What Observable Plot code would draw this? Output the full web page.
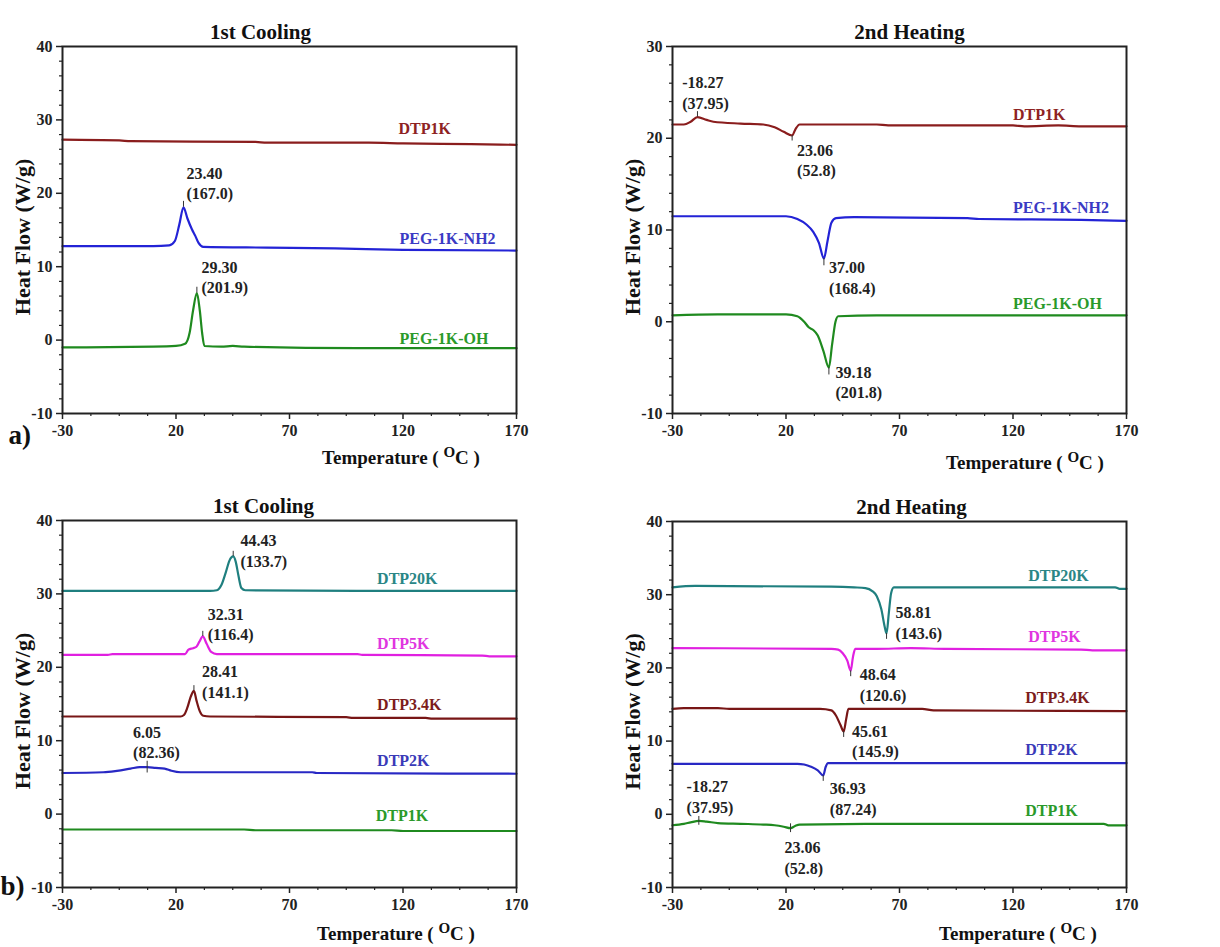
<!DOCTYPE html>
<html><head><meta charset="utf-8">
<script src="https://cdn.jsdelivr.net/npm/d3@7"></script>
<script src="https://cdn.jsdelivr.net/npm/@observablehq/plot@0.6"></script>
<style>
body{margin:0;background:#fff;}
#wrap{position:relative;width:1220px;height:947px;overflow:hidden;}
.panel{position:absolute;}
</style></head><body><div id="wrap"></div>
<script>
// ---------------- DATA ----------------
const tempTicks = [-30, 20, 70, 120, 170];
const tempMinor = [-17.5, -5, 7.5, 32.5, 45, 57.5, 82.5, 95, 107.5, 132.5, 145, 157.5];
const hfTicksA2 = [-10, 0, 10, 20, 30];
const hfTicks = [-10, 0, 10, 20, 30, 40];

// (a) 1st cooling  [temperature °C, heat flow W/g]
const a1_DTP1K = [[-30,27.3],[-5,27.2],[0,27.1],[55,27.0],[60,26.9],[105,26.9],[120,26.8],[150,26.7],[170,26.6]];
const a1_NH2 = [[-30,12.8],[10,12.8],[17,12.9],[19.5,13.5],[21.5,15.8],[23.3,18.1],[25,16.6],[27,15.1],[28.5,14.2],[30,13.2],[32,12.7],[60,12.6],[90,12.5],[120,12.3],[170,12.2]];
const a1_OH = [[-30,-1.0],[10,-0.9],[20,-0.8],[24,-0.5],[26,1.0],[27.5,4.0],[29.2,6.4],[30.5,4.0],[31.5,1.0],[32.5,-0.8],[40,-0.9],[45,-0.8],[50,-0.9],[100,-1.1],[170,-1.1]];

// (a) 2nd heating
const a2_DTP1K = [[-30,21.5],[-25,21.5],[-22,21.8],[-19,22.3],[-15,22.0],[-12,21.8],[0,21.6],[10,21.5],[15,21.2],[19,20.7],[22.7,20.3],[24.2,21.0],[26,21.5],[60,21.5],[65,21.4],[120,21.4],[125,21.3],[140,21.4],[150,21.3],[170,21.3]];
const a2_NH2 = [[-30,11.5],[10,11.5],[20,11.5],[25,11.2],[29,10.6],[32,9.8],[34.5,8.6],[36.7,6.9],[38.3,8.8],[40,10.8],[42,11.3],[50,11.4],[100,11.3],[105,11.2],[150,11.1],[170,11.0]];
const a2_OH = [[-30,0.7],[-10,0.8],[10,0.8],[20,0.8],[25,0.6],[28,0.0],[30,-0.6],[32,-0.9],[34,-1.5],[36.5,-3.2],[38.9,-5.0],[40.3,-2.5],[41.8,0.0],[43,0.6],[60,0.7],[170,0.7]];

// (b) 1st cooling
const b1_DTP20K = [[-30,30.4],[35,30.4],[38,30.5],[40,31.2],[42,33.0],[43.5,34.5],[45.2,35.1],[46.3,34.4],[47.5,32.5],[48.8,30.8],[50.5,30.5],[100,30.4],[170,30.4]];
const b1_DTP5K = [[-30,21.7],[-10,21.7],[-8,21.8],[24,21.8],[25.5,22.4],[27.5,22.6],[29,22.8],[30.3,23.5],[31.8,24.2],[33.5,23.2],[35.5,22.1],[38,21.8],[100,21.8],[102,21.7],[155,21.6],[158,21.5],[170,21.5]];
const b1_DTP34K = [[-30,13.3],[22,13.3],[23.5,13.5],[25,14.5],[26.5,16.0],[27.9,16.8],[29,15.5],[30.5,14.0],[32,13.4],[35,13.3],[95,13.2],[98,13.1],[130,13.1],[133,13.0],[170,13.0]];
const b1_DTP2K = [[-30,5.6],[-12,5.7],[-6,5.9],[0,6.2],[4,6.4],[7.3,6.4],[11,6.3],[15,6.2],[18,5.9],[22,5.7],[80,5.7],[82,5.6],[170,5.5]];
const b1_DTP1K = [[-30,-2.1],[50,-2.1],[55,-2.2],[115,-2.2],[120,-2.3],[170,-2.3]];

// (b) 2nd heating
const b2_DTP20K = [[-30,31.0],[-20,31.2],[40,31.1],[50,31.0],[55,30.9],[58,30.5],[60,29.8],[62,28.0],[63.5,25.6],[64.3,24.7],[65.3,27.5],[66.3,30.2],[67.5,31.0],[100,31.0],[165,31.0],[167,30.8],[170,30.8]];
const b2_DTP5K = [[-30,22.7],[40,22.6],[43,22.5],[45,22.0],[47,21.0],[48.5,19.6],[49.5,21.5],[50.5,22.6],[60,22.6],[75,22.7],[90,22.6],[150,22.5],[155,22.4],[170,22.4]];
const b2_DTP34K = [[-30,14.4],[-25,14.5],[-10,14.5],[-5,14.4],[35,14.4],[40,14.2],[42,13.5],[44,12.2],[45.4,11.3],[46.5,13.0],[47.5,14.4],[80,14.4],[85,14.2],[170,14.1]];
const b2_DTP2K = [[-30,6.9],[25,6.9],[28,6.8],[31,6.5],[34,6.0],[36.4,5.3],[37.5,6.5],[38.5,7.0],[170,7.0]];
const b2_DTP1K = [[-30,-1.5],[-25,-1.3],[-22,-1.1],[-18.4,-0.9],[-15,-1.0],[-10,-1.2],[0,-1.3],[10,-1.4],[15,-1.5],[19,-1.7],[22,-1.9],[24,-1.6],[26,-1.4],[60,-1.3],[100,-1.3],[160,-1.3],[162,-1.5],[170,-1.5]];

// peak annotation texts and the peak points they belong to
const a1_peaks = [{T:23.3, HF:18.1, text:"23.40\n(167.0)"}, {T:29.2, HF:6.4, text:"29.30\n(201.9)"}];
const a2_peaks = [{T:-19, HF:22.3, text:"-18.27\n(37.95)"}, {T:22.7, HF:20.3, text:"23.06\n(52.8)"}, {T:36.7, HF:6.9, text:"37.00\n(168.4)"}, {T:38.9, HF:-5.0, text:"39.18\n(201.8)"}];
const b1_peaks = [{T:45.2, HF:35.1, text:"44.43\n(133.7)"}, {T:31.8, HF:24.2, text:"32.31\n(116.4)"}, {T:27.9, HF:16.8, text:"28.41\n(141.1)"}, {T:7.3, HF:6.4, text:"6.05\n(82.36)"}];
const b2_peaks = [{T:64.3, HF:24.7, text:"58.81\n(143.6)"}, {T:48.5, HF:19.6, text:"48.64\n(120.6)"}, {T:45.4, HF:11.3, text:"45.61\n(145.9)"}, {T:36.4, HF:5.3, text:"36.93\n(87.24)"}, {T:-18.4, HF:-0.9, text:"-18.27\n(37.95)"}, {T:22, HF:-1.9, text:"23.06\n(52.8)"}];

// ---------------- LAYOUT / STYLE ----------------
const C = {
  maroon:"#8a1d1d", blue:"#2323d6", green:"#1f8a1f", teal:"#1f7f7f", magenta:"#e020e0", maroon2:"#781616", blue2:"#2828c4",
  lmaroon:"#8e2222", lblue:"#3a3ac4", lgreen:"#2a9a2a", lteal:"#2a8686", lmagenta:"#e035e0", lmaroon2:"#7c1c1c", lblue2:"#3a3ab8"
};
const FONT = "Liberation Serif, Times New Roman, serif";

function makePanel(cfg) {
  const yMinor = d3.range(cfg.yDomain[0], cfg.yDomain[1] + 0.001, 2).filter(v => !cfg.yTicks.includes(v));
  const marks = [
    Plot.axisX(tempMinor, {tickSize: 3, tickFormat: () => "", label: null, strokeWidth: 1.2}),
    Plot.axisX(tempTicks, {tickSize: 6, tickPadding: 5, tickFormat: d => String(d), label: null, strokeWidth: 1.5, fontSize: 16, fontWeight: "bold"}),
    Plot.axisY(yMinor, {tickSize: 3, tickFormat: () => "", label: null, strokeWidth: 1.2}),
    Plot.axisY(cfg.yTicks, {tickSize: 6, tickPadding: 4, tickFormat: d => String(d), label: null, strokeWidth: 1.5, fontSize: 16, fontWeight: "bold"}),
    ...cfg.series.map(s => Plot.line(s.data, {x: d => d[0], y: d => d[1], stroke: () => s.color, strokeWidth: 2.2, curve: "monotone-x"})),
    Plot.ruleX(cfg.peaks, {x: "T", y1: (d, i) => d.HF - cfg.tick[i][0], y2: (d, i) => d.HF + cfg.tick[i][1], stroke: "#333", strokeWidth: 1}),
    Plot.text(cfg.peaks, {x: (d, i) => cfg.notePos[i][0], y: (d, i) => cfg.notePos[i][1], text: "text", textAnchor: "start", lineAnchor: "middle", lineHeight: 1.3, fontSize: 16, fontWeight: "bold", fill: "#222"}),
    Plot.text(cfg.series, {x: (d, i) => cfg.labelPos[i][0], y: (d, i) => cfg.labelPos[i][1], text: "name", fill: d => d.lcolor, textAnchor: "start", fontSize: 16, fontWeight: "bold"}),
    Plot.text([cfg.title], {text: d => d, frameAnchor: "top", textAnchor: "middle", dx: cfg.titleDx, dy: -22, fontSize: 21, fontWeight: "bold", fill: "#111"}),
    Plot.text(["Heat Flow (W/g)"], {text: d => d, frameAnchor: "left", textAnchor: "middle", rotate: -90, dx: -40, dy: 7, fontSize: 22, fontWeight: "bold", fill: "#111"}),
    Plot.frame({stroke: "#222", strokeWidth: 2})
  ];
  if (cfg.letter) marks.push(Plot.text([cfg.letter], {text: d => d, frameAnchor: "bottom-left", textAnchor: "start", dx: cfg.letterPos[0], dy: cfg.letterPos[1], fontSize: 27, fontWeight: "bold", fill: "#111"}));
  const svg = Plot.plot({
    width: 610, height: cfg.height,
    marginLeft: 62, marginRight: 94, marginTop: cfg.marginTop, marginBottom: cfg.marginBottom,
    x: {domain: [-30, 170]},
    y: {domain: cfg.yDomain},
    color: {type: "identity"},
    style: {fontFamily: FONT, fontSize: "16px", fontWeight: "bold", color: "#222", background: "white", overflow: "visible"},
    marks
  });
  d3.select(svg).selectAll('g[aria-label="x-axis tick label"], g[aria-label="y-axis tick label"]')
    .attr("font-size", 16).style("font-size", "16px").attr("font-weight", "bold");
  const t = d3.select(svg).append("text")
    .attr("x", cfg.xLabel[0]).attr("y", cfg.xLabel[1])
    .attr("text-anchor", "middle").attr("font-size", 19).attr("font-weight", "bold").attr("fill", "#111");
  t.append("tspan").text("Temperature ( ");
  t.append("tspan").attr("dy", -7).attr("font-size", 15).text("O");
  t.append("tspan").attr("dy", 7).text("C )");
  return svg;
}

const panels = [
  {left: 0, top: 0, height: 480, marginTop: 46, marginBottom: 67, yDomain: [-10, 40], yTicks: hfTicks,
   title: "1st Cooling", titleDx: -29, letter: "a)", letterPos: [-54, 30], xLabel: [401, 464],
   series: [{name: "DTP1K", data: a1_DTP1K, color: C.maroon, lcolor: C.lmaroon},
            {name: "PEG-1K-NH2", data: a1_NH2, color: C.blue, lcolor: C.lblue},
            {name: "PEG-1K-OH", data: a1_OH, color: C.green, lcolor: C.lgreen}],
   labelPos: [[118, 28.8], [118.5, 13.8], [118.5, 0.2]],
   peaks: a1_peaks, notePos: [[24.6, 21.5], [31.2, 8.7]], tick: [[0, 0.8], [0, 0.8]]},
  {left: 610, top: 0, height: 480, marginTop: 46, marginBottom: 67, yDomain: [-10, 30], yTicks: hfTicksA2,
   title: "2nd Heating", titleDx: 10, xLabel: [415, 469],
   series: [{name: "DTP1K", data: a2_DTP1K, color: C.maroon, lcolor: C.lmaroon},
            {name: "PEG-1K-NH2", data: a2_NH2, color: C.blue, lcolor: C.lblue},
            {name: "PEG-1K-OH", data: a2_OH, color: C.green, lcolor: C.lgreen}],
   labelPos: [[120, 22.6], [120, 12.4], [120, 1.9]],
   peaks: a2_peaks, notePos: [[-25.7, 25.1], [24.9, 17.7], [38.9, 4.9], [41.8, -6.5]], tick: [[0, 0.6], [0.6, 0], [0.8, 0], [0.8, 0]]},
  {left: 0, top: 480, height: 467, marginTop: 40, marginBottom: 60, yDomain: [-10, 40], yTicks: hfTicks,
   title: "1st Cooling", titleDx: -26, letter: "b)", letterPos: [-62, 7], xLabel: [396, 460],
   series: [{name: "DTP20K", data: b1_DTP20K, color: C.teal, lcolor: C.lteal},
            {name: "DTP5K", data: b1_DTP5K, color: C.magenta, lcolor: C.lmagenta},
            {name: "DTP3.4K", data: b1_DTP34K, color: C.maroon2, lcolor: C.lmaroon2},
            {name: "DTP2K", data: b1_DTP2K, color: C.blue2, lcolor: C.lblue2},
            {name: "DTP1K", data: b1_DTP1K, color: C.green, lcolor: C.lgreen}],
   labelPos: [[108.6, 32.0], [108.6, 23.2], [108.6, 14.9], [108.6, 7.2], [108, -0.2]],
   peaks: b1_peaks, notePos: [[48.4, 35.95], [34.0, 26.0], [31.5, 18.2], [1.1, 9.9]], tick: [[0, 0.7], [0, 0.7], [0, 0.7], [0.8, 0.8]]},
  {left: 610, top: 480, height: 467, marginTop: 41, marginBottom: 60, yDomain: [-10, 40], yTicks: hfTicks,
   title: "2nd Heating", titleDx: 12, xLabel: [408, 460],
   series: [{name: "DTP20K", data: b2_DTP20K, color: C.teal, lcolor: C.lteal},
            {name: "DTP5K", data: b2_DTP5K, color: C.magenta, lcolor: C.lmagenta},
            {name: "DTP3.4K", data: b2_DTP34K, color: C.maroon2, lcolor: C.lmaroon2},
            {name: "DTP2K", data: b2_DTP2K, color: C.blue2, lcolor: C.lblue2},
            {name: "DTP1K", data: b2_DTP1K, color: C.green, lcolor: C.lgreen}],
   labelPos: [[126.7, 32.6], [126.7, 24.3], [125.4, 15.9], [125.4, 8.8], [125.4, 0.4]],
   peaks: b2_peaks, notePos: [[68.2, 26.3], [52.5, 17.8], [49.1, 10.1], [39.3, 2.3], [-23.8, 2.5], [19.3, -5.8]],
   tick: [[0.8, 0], [0.8, 0], [0.8, 0], [0.8, 0], [0.6, 0.6], [0.6, 0.6]]}
];

const wrap = document.getElementById("wrap");
for (const p of panels) {
  const div = document.createElement("div");
  div.className = "panel";
  div.style.left = p.left + "px";
  div.style.top = p.top + "px";
  div.appendChild(makePanel(p));
  wrap.appendChild(div);
}
</script></body></html>
